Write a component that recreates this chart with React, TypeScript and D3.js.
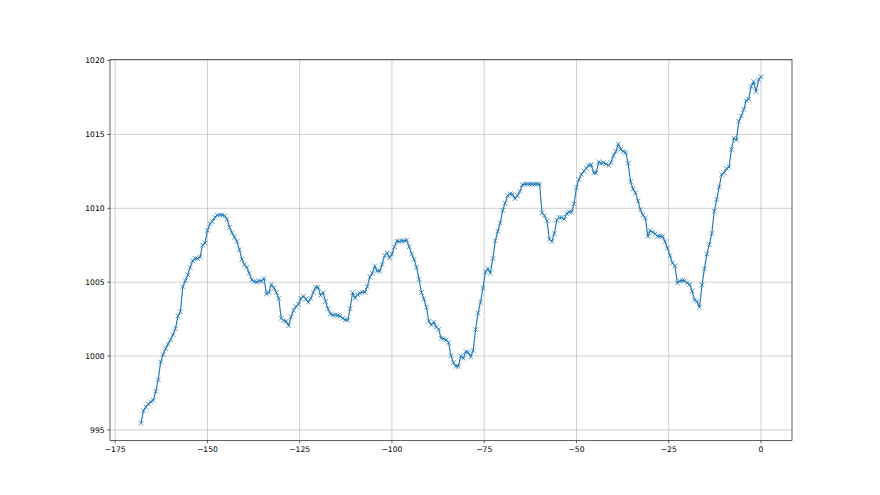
import React from "react";
import * as d3 from "d3";

// Hours relative to now (last reading at 0), one reading every 40 minutes
const START_HOUR = -168;
const END_HOUR = 0;

// Pressure readings (hPa)
const pressure: number[] = [
  995.45, 996.3, 996.55, 996.75, 996.9, 997.0, 997.6, 998.4, 999.6, 1000.1,
  1000.5, 1000.8, 1001.1, 1001.45, 1001.85, 1002.7, 1003.0, 1004.7, 1005.1, 1005.5,
  1006.0, 1006.45, 1006.6, 1006.6, 1006.7, 1007.5, 1007.65, 1008.5, 1008.95, 1009.1,
  1009.4, 1009.53, 1009.55, 1009.55, 1009.5, 1009.25, 1008.7, 1008.35, 1008.05, 1007.75,
  1007.2, 1006.55, 1006.2, 1006.0, 1005.6, 1005.15, 1005.05, 1005.0, 1005.1, 1005.05,
  1005.25, 1004.2, 1004.3, 1004.85, 1004.6, 1004.3, 1003.9, 1002.55, 1002.4, 1002.35,
  1002.05, 1002.65, 1003.1, 1003.35, 1003.5, 1003.9, 1004.05, 1003.85, 1003.65, 1003.9,
  1004.3, 1004.65, 1004.65, 1004.1, 1004.3, 1003.7, 1003.2, 1002.85, 1002.78, 1002.78,
  1002.75, 1002.7, 1002.55, 1002.45,
  1002.42, 1003.2, 1004.3, 1003.92, 1004.17, 1004.26, 1004.33, 1004.33, 1004.7, 1005.35,
  1005.6, 1006.1, 1005.75, 1005.75, 1006.2, 1006.8, 1006.98, 1006.65, 1006.9, 1007.4,
  1007.78, 1007.75, 1007.8, 1007.8, 1007.85, 1007.4, 1006.9, 1006.55, 1006.0, 1005.2,
  1004.3, 1003.85, 1003.3, 1002.35, 1002.1, 1002.3, 1001.95, 1001.8, 1001.2, 1001.17,
  1001.1, 1000.9,
  1000.03, 999.55, 999.3, 999.3, 1000.0, 999.85, 1000.3, 1000.25, 999.95, 1000.37,
  1001.8, 1002.9, 1003.65, 1004.6, 1005.7, 1005.92, 1005.62, 1006.6, 1007.8, 1008.45,
  1009.0, 1009.85, 1010.35, 1010.85, 1010.98, 1010.95, 1010.65, 1010.85, 1011.15, 1011.6,
  1011.64, 1011.64, 1011.64, 1011.64, 1011.64, 1011.64, 1011.64, 1009.7, 1009.5, 1009.15,
  1007.9, 1007.75,
  1008.3, 1009.2, 1009.38, 1009.38, 1009.25, 1009.65, 1009.75, 1009.75, 1010.3, 1011.4,
  1011.95, 1012.3, 1012.52, 1012.7, 1012.92, 1012.95, 1012.4, 1012.4, 1013.15, 1013.04,
  1013.1, 1013.0, 1012.9, 1013.1, 1013.55, 1013.85, 1014.35, 1014.0, 1013.85, 1013.78,
  1013.04, 1011.8, 1011.3, 1011.05, 1010.5, 1009.9, 1009.55, 1009.35, 1008.1, 1008.5,
  1008.38, 1008.27, 1008.1,
  1008.1, 1008.1, 1007.75, 1007.3, 1006.8, 1006.3, 1006.1, 1004.95, 1005.07, 1005.12,
  1005.1, 1004.95, 1004.85, 1004.4, 1003.8, 1003.7, 1003.3, 1004.8, 1005.9, 1006.9,
  1007.55, 1008.3, 1009.8, 1010.6, 1011.45, 1012.3, 1012.4, 1012.7, 1012.8, 1013.99,
  1014.75, 1014.62, 1015.9, 1016.25, 1016.7, 1017.3, 1017.4, 1018.25, 1018.58, 1017.9,
  1018.7, 1018.91,
];

const xTicks = [-175, -150, -125, -100, -75, -50, -25, 0];
const yTicks = [995, 1000, 1005, 1010, 1015, 1020];

const W = 880;
const H = 495;
const PT = 55 / 72; // figure dpi 55
const margin = { left: 110, right: 792, top: 59.4, bottom: 440.55 };
const BLUE = "#1f77b4";

const fmt = (v: number) => (v < 0 ? "\u2212" + Math.abs(v) : String(v));

export default function App() {
  const n = pressure.length;
  const hours = pressure.map(
    (_, i) => START_HOUR + (i * (END_HOUR - START_HOUR)) / (n - 1)
  );
  const pts = hours.map((h, i) => [h, pressure[i]] as [number, number]);

  const [xMin, xMax] = d3.extent(hours) as [number, number];
  const [yMin, yMax] = d3.extent(pressure) as [number, number];
  const xPad = (xMax - xMin) * 0.05;
  const yPad = (yMax - yMin) * 0.05;

  const x = d3
    .scaleLinear()
    .domain([xMin - xPad, xMax + xPad])
    .range([margin.left, margin.right]);
  const y = d3
    .scaleLinear()
    .domain([yMin - yPad, yMax + yPad])
    .range([margin.bottom, margin.top]);

  const line = d3
    .line<[number, number]>()
    .x((d) => x(d[0]))
    .y((d) => y(d[1]));

  const ms = (6 * PT) / 2;
  const tickLen = 3.5 * PT;
  const pad = 3.5 * PT;
  const fontSize = 10 * PT;

  return (
    <svg
      width={W}
      height={H}
      style={{ position: "absolute", left: 0, top: 0, background: "#fff" }}
      fontFamily="'DejaVu Sans', sans-serif"
    >
      <rect x={0} y={0} width={W} height={H} fill="#fff" />
      {/* grid */}
      <g stroke="#b0b0b0" strokeWidth={0.8 * PT}>
        {xTicks.map((t) => (
          <line key={"gx" + t} x1={x(t)} x2={x(t)} y1={margin.top} y2={margin.bottom} />
        ))}
        {yTicks.map((t) => (
          <line key={"gy" + t} x1={margin.left} x2={margin.right} y1={y(t)} y2={y(t)} />
        ))}
      </g>
      {/* series */}
      <path
        d={line(pts) || ""}
        fill="none"
        stroke={BLUE}
        strokeWidth={1.5 * PT}
        strokeLinejoin="round"
      />
      <g stroke={BLUE} strokeWidth={1 * PT} fill="none">
        {pts.map((d, i) => {
          const cx = x(d[0]);
          const cy = y(d[1]);
          return (
            <path
              key={i}
              d={`M${cx - ms},${cy - ms}L${cx + ms},${cy + ms}M${cx - ms},${cy + ms}L${cx + ms},${cy - ms}`}
            />
          );
        })}
      </g>
      {/* spines */}
      <rect
        x={margin.left}
        y={margin.top}
        width={margin.right - margin.left}
        height={margin.bottom - margin.top}
        fill="none"
        stroke="#000"
        strokeWidth={0.8 * PT}
      />
      {/* x ticks */}
      <g>
        {xTicks.map((t) => (
          <g key={"xt" + t}>
            <line
              x1={x(t)}
              x2={x(t)}
              y1={margin.bottom}
              y2={margin.bottom + tickLen}
              stroke="#000"
              strokeWidth={0.8 * PT}
            />
            <text
              x={x(t)}
              y={margin.bottom + tickLen + pad}
              dy="0.76em"
              textAnchor="middle"
              fontSize={fontSize}
              fill="#000"
            >
              {fmt(t)}
            </text>
          </g>
        ))}
      </g>
      {/* y ticks */}
      <g>
        {yTicks.map((t) => (
          <g key={"yt" + t}>
            <line
              x1={margin.left - tickLen}
              x2={margin.left}
              y1={y(t)}
              y2={y(t)}
              stroke="#000"
              strokeWidth={0.8 * PT}
            />
            <text
              x={margin.left - tickLen - pad}
              y={y(t)}
              dy="0.35em"
              textAnchor="end"
              fontSize={fontSize}
              fill="#000"
            >
              {fmt(t)}
            </text>
          </g>
        ))}
      </g>
    </svg>
  );
}
